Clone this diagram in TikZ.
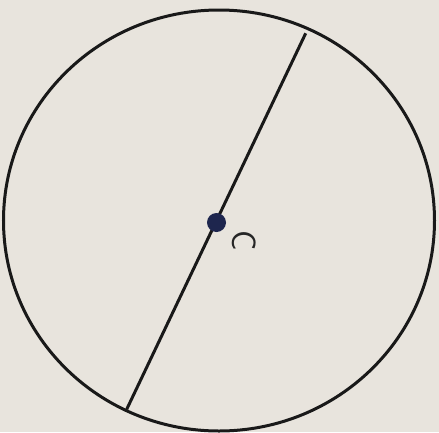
\documentclass[tikz,border=0pt]{standalone}
\begin{document}
\begin{tikzpicture}[x=1pt,y=-1pt,
  ink/.style={draw=black!90, line width=3pt},
  centredot/.style={circle, fill=dotblue, inner sep=0pt, minimum size=19pt},
  lbl/.style={font=\sffamily\fontsize{34}{34}\selectfont, text=black!85, rotate=-90, inner sep=0pt}]
\definecolor{paper}{RGB}{232,228,221}
\definecolor{dotblue}{RGB}{30,38,78}
\fill[paper] (0,0) rectangle (439,432);
\useasboundingbox (0,0) rectangle (439,432);
\draw[ink] (219,220.5) ellipse [x radius=215.5, y radius=210.5];
\coordinate (top) at (305.7,33.3);
\coordinate (bot) at (126.7,409.3);
\draw[ink] (top) -- (bot);
\node[centredot] (c) at (216.5,222.5) {};
\node[lbl] (lc) at (244,240.5) {C};
\end{tikzpicture}
\end{document}
